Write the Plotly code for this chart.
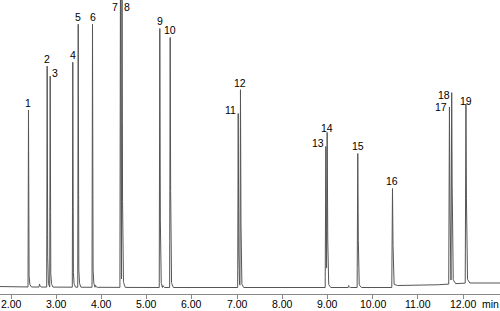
import numpy as np
import plotly.graph_objects as go

# ---- data ----
peak_label = ["1", "2", "3", "4", "5", "6", "7", "8", "9", "10",
              "11", "12", "13", "14", "15", "16", "17", "18", "19"]
peak_rt = [2.387, 2.800, 2.867, 3.367, 3.487, 3.803, 4.422, 4.456, 5.292, 5.522,
           7.027, 7.077, 8.965, 8.995, 9.672, 10.440, 11.700, 11.750, 12.065]
peak_height = [177, 221, 211, 225, 263, 263, 330, 320, 259, 250,
               174, 197, 141, 152, 134, 99, 177, 189, 179]
peak_width = [0.030, 0.030, 0.030, 0.030, 0.030, 0.030, 0.035, 0.035, 0.035, 0.035,
              0.035, 0.035, 0.040, 0.040, 0.040, 0.045, 0.045, 0.045, 0.045]

minor_rt = [2.63, 3.87, 5.36, 9.47]
minor_height = [3, 2, 2, 2]

base_t = [1.70, 2.40, 5.00, 9.00, 10.45, 10.50, 11.00, 11.60, 11.70, 12.10, 12.90]
base_y = [0.5, 0.0, -0.5, -0.5, -0.5, 1.5, 1.5, 2.5, 3.0, 4.0, 4.0]

tick_vals = [2, 3, 4, 5, 6, 7, 8, 9, 10, 11, 12]
tick_text = ["2.00", "3.00", "4.00", "5.00", "6.00", "7.00", "8.00", "9.00",
             "10.00", "11.00", "12.00"]
x_unit = "min"

# label placement style (top / left / right of the peak apex)
label_side = ["top", "top", "right", "top", "top", "top", "left", "right", "top", "top",
              "left", "top", "left", "top", "top", "top", "left", "left", "top"]

# ---- build the trace from the peak table ----
shapes_x, shapes_y = [], []
for rt, h, w in zip(peak_rt, peak_height, peak_width):
    shapes_x.append([rt - 0.35 * w, rt, rt + 0.45 * w, rt + 1.6 * w])
    shapes_y.append([0, h, 0.03 * h, 0])
for rt, h in zip(minor_rt, minor_height):
    shapes_x.append([rt - 0.01, rt, rt + 0.02])
    shapes_y.append([0, h, 0])

t = np.arange(1.70, 12.90, 0.004)
t = np.unique(np.concatenate([t] + [np.array(v) for v in shapes_x]))
signal = np.interp(t, base_t, base_y)
for xs, ys in zip(shapes_x, shapes_y):
    signal = signal + np.interp(t, xs, ys, left=0, right=0)

px_per_min = 45.2
x0 = 2 - 11 / px_per_min
x1 = x0 + 500 / px_per_min
y_top = 287
y_bot = -7

fig = go.Figure()
fig.add_trace(go.Scatter(x=t, y=signal, mode="lines",
                         line=dict(color="#555555", width=1), hoverinfo="skip",
                         showlegend=False))

FONT = "Liberation Sans, Arial, sans-serif"
font_lbl = dict(family=FONT, size=10.5, color="#000")
for lab, rt, h, side in zip(peak_label, peak_rt, peak_height, label_side):
    y = min(h, y_top)
    if h > y_top:
        ya, ys = "top", 0
    elif side == "top":
        ya, ys = "bottom", 0
    else:
        ya, ys = "middle", 3
    if side == "top":
        xa, xs = "center", 0
    elif side == "left":
        xa, xs = "right", -1
    else:
        xa, xs = "left", 1
    fig.add_annotation(x=rt, y=y, text=lab, showarrow=False, xanchor=xa, yanchor=ya,
                       xshift=xs, yshift=ys, font=font_lbl, borderpad=0)

font_tick = dict(family=FONT, size=10.5, color="#000")
for v, txt in zip(tick_vals, tick_text):
    fig.add_annotation(x=v, y=0, yref="paper", text=txt, showarrow=False,
                       xanchor="center", yanchor="top", yshift=-3, font=font_tick,
                       borderpad=0)
fig.add_annotation(x=1, y=0, xref="paper", yref="paper", text=x_unit, showarrow=False,
                   xanchor="right", yanchor="top", yshift=-3, xshift=0,
                   font=font_tick, borderpad=0)

fig.update_layout(
    width=500, height=311,
    margin=dict(l=0, r=0, t=0, b=17),
    paper_bgcolor="white", plot_bgcolor="white",
    xaxis=dict(range=[x0, x1], showgrid=False, zeroline=False, showline=True,
               linecolor="#888", linewidth=1, ticks="outside", ticklen=4,
               tickcolor="#888", tickvals=tick_vals, showticklabels=False),
    yaxis=dict(range=[y_bot, y_top], visible=False, showgrid=False, zeroline=False),
)

fig.write_html("out.html")
